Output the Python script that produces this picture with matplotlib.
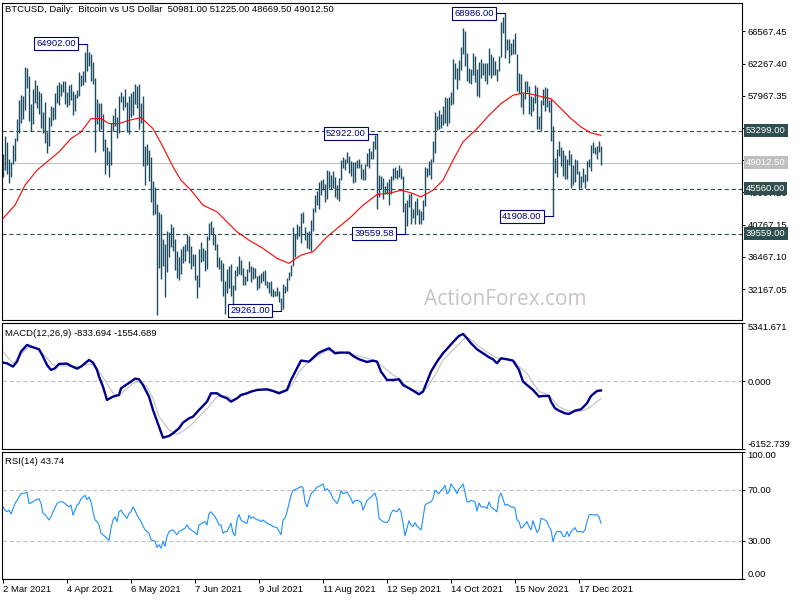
import matplotlib
matplotlib.use("Agg")
import matplotlib.pyplot as plt
from matplotlib.transforms import blended_transform_factory

plt.rcParams['font.family'] = ['Liberation Sans', 'DejaVu Sans']
plt.rcParams['lines.scale_dashes'] = False

# daily bars, 2 Mar 2021 .. 28 Dec 2021 (broker series, 300 bars)
HIGH = [
    # Mar
    50200, 52600, 51800, 49500, 49200, 51400, 52400, 54900, 57400, 58100,
    58000, 61800, 61700, 60600, 56900, 58900, 60100, 59400, 58600, 58400,
    55800, 57200, 53200, 55100, 56600, 56500, 58400, 59400, 59800,
    # Apr
    59500, 60000, 59900, 58500, 59400, 59500, 58600, 58200, 58800, 61200,
    60700, 61300, 63800, 64902, 63800, 63600, 62500, 60400, 57500, 57000,
    57000, 55500, 52200, 51200, 50600, 54400, 55400, 56400, 55200, 58000,
    # May
    58500, 57900, 58900, 57200, 57900, 58300, 58600, 59500, 59300, 59600,
    57000, 57900, 51300, 51500, 50700, 49800, 46600, 45800, 43500, 42500,
    42200, 38800, 38200, 39900, 39800, 40800, 40400, 38900, 37300, 36400, 37500,
    # Jun
    37900, 38200, 39500, 39300, 37900, 36800, 36800, 34100, 37500, 38400,
    37700, 37400, 39300, 41000, 41300, 40500, 39500, 38200, 36400, 36100,
    35700, 33300, 34900, 35200, 35500, 32700, 34700, 35300, 36600, 36100,
    # Jul
    35000, 33900, 34900, 35900, 35300, 35100, 35000, 33900, 34100, 34300,
    34600, 34700, 33300, 33100, 33200, 32200, 31900, 32400, 31900, 31000,
    32800, 32600, 33600, 34500, 35400, 40500, 39500, 40900, 40600, 42300, 42400,
    # Aug
    40400, 39800, 39900, 41400, 43000, 44700, 45300, 46500, 46700, 46800,
    46200, 48100, 48000, 47400, 48000, 47100, 46000, 47000, 49400, 49800,
    49500, 50500, 49900, 49300, 49200, 49200, 49400, 49600, 48900, 48200,
    # Sep
    48900, 50400, 51000, 50600, 51900, 52800, 52922, 47400, 47300, 47000,
    45900, 46400, 46800, 47200, 48400, 48500, 48100, 48800, 48300, 47300,
    43600, 44000, 44900, 45000, 42800, 43900, 44300, 42800, 42600, 44100,
    # Oct
    48500, 48400, 49300, 49500, 51900, 55800, 55300, 56100, 55500, 56600,
    57800, 57700, 57800, 58500, 62900, 62300, 61700, 62700, 64500, 67000,
    66600, 63700, 61700, 61500, 63700, 63300, 61500, 62500, 62900, 62400, 62400,
    # Nov
    62400, 64300, 63500, 63100, 62600, 61600, 63300, 67800, 68500, 68986,
    65600, 65500, 65000, 65600, 66300, 63600, 61000, 60900, 58400, 59900,
    60000, 59300, 58000, 57800, 59400, 59200, 55300, 57400, 58900, 59200,
    # Dec
    59000, 57400, 57600, 53900, 49700, 50900, 51900, 51200, 50800, 50100,
    49500, 50800, 50200, 48700, 49500, 49400, 48000, 47300, 48300, 47500,
    49300, 49600, 51400, 51800, 51200, 51300, 52000, 51225,
]
LOW = [
    # Mar
    47100, 48100, 47500, 46300, 47100, 48900, 49300, 51900, 53000, 54300,
    54900, 56100, 59000, 54600, 53300, 54200, 57000, 56300, 55500, 53700,
    53000, 51700, 50400, 51300, 53900, 54700, 54900, 57000, 56800,
    # Apr
    57900, 58500, 56900, 56500, 56800, 57400, 55400, 55900, 57700, 57900,
    59300, 59400, 59800, 61300, 62000, 60000, 59600, 50500, 54200, 53300,
    53600, 50600, 47500, 48800, 47100, 48800, 53300, 53900, 52400, 53000,
    # May
    57100, 56100, 56500, 53100, 52900, 55200, 55400, 56900, 56300, 53500,
    54300, 48600, 46000, 48800, 46600, 43800, 42100, 42200, 28700, 35000,
    33500, 35300, 31100, 34400, 36400, 37800, 37200, 34700, 33600, 33400, 34200,
    # Jun
    35700, 35900, 37200, 35600, 34800, 35300, 33400, 31000, 32400, 35800,
    35900, 34600, 34800, 38700, 39500, 38100, 37400, 35100, 34800, 33300,
    31300, 28900, 31700, 32300, 31300, 30200, 32000, 33900, 34200, 34000,
    # Jul
    32700, 32700, 33300, 34500, 33100, 33500, 33700, 32100, 32300, 33000,
    33300, 32700, 32300, 31600, 31200, 31100, 31200, 31200, 30500, 29261,
    29500, 31700, 31900, 33400, 33900, 35300, 36400, 38800, 39200, 38300, 41000,
    # Aug
    38700, 37600, 37500, 37300, 39900, 42500, 43400, 42800, 44700, 45400,
    43800, 44200, 45700, 45500, 45700, 44400, 44200, 43900, 46700, 48300,
    48100, 49000, 47600, 47200, 46300, 46500, 48400, 48300, 46900, 46700,
    # Sep
    46700, 48600, 48300, 49500, 49500, 50900, 42800, 44400, 45500, 44200,
    44800, 44800, 43400, 44800, 46700, 47000, 46800, 47100, 46900, 42500,
    39560, 40600, 43100, 40800, 41700, 40800, 42100, 40900, 40800, 41400,
    # Oct
    43300, 47100, 47400, 46900, 49100, 50400, 53400, 53600, 53700, 54100,
    54400, 54000, 54300, 56800, 56900, 60200, 58900, 60100, 61400, 63500,
    62000, 60000, 59700, 59500, 60700, 59800, 58000, 57800, 60300, 60700, 60000,
    # Nov
    59500, 60700, 60400, 60700, 60700, 60000, 61300, 63100, 66300, 63000,
    64100, 62300, 63400, 63600, 63500, 58600, 58400, 56500, 55600, 57500,
    58500, 55600, 55300, 55900, 57000, 53500, 53600, 53300, 56700, 55900,
    # Dec
    56500, 55800, 52000, 41908, 47700, 47100, 50000, 48600, 47300, 46900,
    46800, 48700, 45700, 46000, 46500, 47500, 45500, 45600, 46400, 45600,
    46600, 48500, 48000, 50400, 50200, 49500, 50500, 48669.5,
]

# red moving average (bar, value)
MA_BAR = [0, 6, 11, 17, 22, 28, 34, 39, 44, 49, 53, 58, 63, 69, 75, 80, 85, 89,
          94, 100, 107, 112, 117, 123, 130, 137, 143, 149, 155, 162, 168, 174,
          180, 187, 194, 199, 204, 209, 215, 220, 225, 230, 237, 243, 249, 255,
          260, 265, 270, 274, 279, 284, 289, 294, 299]
MA_VAL = [41600, 43370, 46040, 48040, 49150, 50480, 52260, 53150, 54930, 54930,
          54260, 54260, 54700, 55060, 53600, 51150, 48480, 46700, 45370, 43370,
          42480, 41150, 39810, 38700, 37600, 36270, 35600, 36710, 37150, 39150,
          40480, 41810, 43370, 44790, 45010, 45370, 45010, 44480, 45370, 46700,
          49370, 51810, 53600, 55370, 56930, 58040, 58340, 58170, 57810, 57600,
          56260, 54930, 53810, 53010, 52700]

MACD_BAR = [0, 2, 5, 7, 9, 12, 14, 18, 20, 22,
            24, 26, 28, 32, 34, 37, 39, 41, 43, 45,
            47, 48, 50, 52, 55, 58, 59, 62, 64, 66,
            68, 70, 73, 75, 78, 80, 83, 85, 88, 90,
            93, 95, 98, 102, 104, 107, 109, 112, 114, 117,
            119, 122, 124, 127, 132, 135, 138, 142, 144, 147,
            149, 153, 156, 158, 161, 163, 166, 169, 173, 175,
            178, 182, 185, 187, 189, 192, 195, 198, 200,
            203, 205, 208, 210, 212, 214, 217, 220, 223, 226,
            228, 230, 232, 234, 237, 240, 243, 245, 247, 249,
            252, 255, 258, 260, 263, 265, 268, 270, 273, 274,
            276, 278, 281, 283, 286, 289, 292, 294, 297, 299]
MACD_VAL = [1697, 1636, 1333, 1788, 2697, 3303, 3151, 2909, 2242, 1485,
            1030, 1182, 1576, 1606, 1394, 1151, 1333, 1636, 1939, 1697,
            1030, 424, -485, -1697, -1394, -1242, -636, -273, -30, 242,
            182, -333, -1394, -2606, -4121, -5121, -4969, -4727, -4272, -3757,
            -3363, -3212, -2606, -1848, -1091, -1091, -1333, -1545, -1848, -1545,
            -1242, -1091, -939, -788, -727, -879, -1091, -788, 121, 1182,
            1879, 1788, 2303, 2606, 2848, 3000, 2545, 2606, 2606, 2303,
            2000, 1757, 1879, 1788, 879, 121, 121, 182, -333,
            -636, -848, -1182, -939, -30, 879, 1788, 2545, 3151, 3757,
            4121, 4303, 3909, 3454, 2909, 2545, 2182, 2000, 1636, 2091,
            2000, 1879, 1030, -30, -485, -788, -1394, -1333, -1333, -1848,
            -2454, -2666, -2909, -2969, -2666, -2545, -2000, -1333, -879, -833.694]

SIGNAL_BAR = [0, 2, 5, 8, 12, 15, 18, 22, 25, 29,
              34, 38, 43, 46, 48, 52, 55, 58, 61, 65,
              68, 72, 75, 78, 83, 87, 91, 95, 98, 103,
              107, 112, 115, 118, 123, 128, 133, 138, 142, 145,
              148, 152, 157, 162, 165, 170, 175, 180, 185, 190,
              195, 198, 202, 205, 210, 213, 217, 220, 225, 230,
              232, 234, 238, 243, 248, 253, 256, 258, 262, 265,
              268, 272, 275, 278, 282, 285, 288, 291, 294, 299]
SIGNAL_VAL = [2700, 2242, 1636, 2242, 3000, 3151, 2939, 2091, 1485, 1394,
              1394, 1333, 1545, 1485, 879, -182, -1091, -1333, -788, -182,
              -30, -485, -1545, -3212, -4424, -4818, -4424, -3818, -3212, -2303,
              -1394, -1333, -1697, -1454, -939, -788, -848, -939, -848, -182,
              879, 1636, 2242, 2788, 2788, 2606, 2454, 2182, 1939, 1333,
              576, 273, -485, -788, -939, -333, 879, 1939, 2848, 3757,
              4000, 3757, 3151, 2545, 2000, 1939, 1788, 1333, 727, -182,
              -939, -1151, -1697, -2303, -2666, -2757, -2757, -2606, -2303, -1554.689]

RSI_BAR = [0, 1, 2, 3, 4, 6, 8, 9, 11, 12,
           13, 14, 16, 18, 19, 20, 21, 23, 24, 25,
           27, 28, 30, 31, 33, 34, 35, 36, 37, 38,
           39, 41, 42, 43, 44, 45, 46, 47, 48, 49,
           51, 53, 54, 55, 56, 57, 58, 59, 60, 62,
           63, 64, 65, 66, 67, 68, 69, 71, 72, 73,
           74, 76, 77, 78, 79, 80, 81, 82, 83, 84,
           85, 87, 88, 89, 91, 92, 93, 94, 96, 97,
           98, 99, 101, 102, 103, 104, 106, 107, 108, 109,
           110, 111, 112, 114, 115, 116, 117, 118, 119, 120,
           122, 123, 124, 125, 127, 128, 129, 130, 132, 134,
           135, 137, 139, 140, 141, 142, 144, 145, 147, 149,
           150, 151, 152, 153, 154, 156, 157, 159, 160, 161,
           162, 164, 165, 167, 168, 169, 170, 172, 174, 175,
           176, 177, 179, 180, 181, 182, 184, 186, 187, 188,
           189, 190, 192, 193, 194, 195, 197, 198, 199, 200,
           201, 202, 203, 204, 205, 206, 207, 209, 210, 211,
           212, 214, 215, 216, 217, 218, 219, 220, 221, 222,
           223, 224, 226, 227, 228, 229, 230, 231, 232, 233,
           234, 236, 237, 238, 239, 241, 242, 243, 244, 246,
           247, 248, 249, 251, 252, 254, 255, 256, 257, 258,
           259, 260, 262, 263, 264, 265, 267, 268, 269, 271,
           272, 273, 274, 275, 276, 277, 279, 280, 281, 282,
           283, 284, 286, 287, 289, 290, 291, 292, 293, 294,
           296, 297, 298, 299]
RSI_VAL = [56.6, 54.0, 52.7, 54.0, 50.9, 59.2, 64.3, 66.9, 67.4, 68.2,
           59.2, 59.7, 61.7, 63.0, 59.2, 51.4, 50.6, 46.3, 48.8, 52.7,
           59.2, 60.5, 60.5, 59.2, 56.6, 57.9, 50.1, 54.0, 57.9, 59.2,
           63.0, 65.6, 62.3, 64.3, 60.5, 52.7, 46.3, 45.0, 42.4, 35.9,
           33.4, 30.3, 39.8, 46.3, 48.8, 45.0, 52.7, 54.0, 51.4, 47.6,
           51.4, 52.7, 56.6, 54.0, 50.1, 47.6, 45.0, 38.5, 37.2, 35.9,
           30.8, 29.5, 24.8, 26.9, 24.1, 29.5, 25.6, 33.4, 37.2, 38.0,
           38.5, 34.7, 37.2, 38.0, 39.8, 42.4, 39.8, 38.5, 36.5, 34.7,
           42.4, 43.2, 45.0, 42.4, 51.4, 52.7, 48.8, 46.3, 42.4, 42.4,
           35.9, 37.2, 37.2, 43.7, 35.9, 33.9, 46.3, 50.6, 46.3, 45.0,
           43.7, 50.1, 47.6, 48.8, 46.3, 46.3, 45.0, 46.3, 43.7, 42.4,
           41.1, 40.3, 34.7, 46.3, 47.6, 52.7, 65.6, 69.5, 70.8, 72.6,
           71.5, 60.5, 56.6, 61.7, 66.9, 70.0, 72.1, 73.4, 74.6, 69.5,
           70.8, 66.9, 63.0, 59.2, 63.0, 69.5, 66.9, 68.2, 63.0, 59.2,
           61.7, 61.7, 60.5, 54.0, 57.9, 61.7, 64.3, 67.4, 61.7, 47.6,
           46.3, 45.0, 44.2, 46.3, 51.4, 54.0, 52.7, 55.3, 52.7, 43.7,
           33.9, 39.8, 45.7, 42.4, 41.1, 44.2, 41.6, 38.5, 47.6, 57.9,
           59.2, 60.5, 63.0, 69.5, 68.2, 66.9, 69.5, 70.8, 73.4, 66.9,
           68.2, 74.6, 70.0, 66.9, 70.8, 72.1, 74.6, 68.2, 60.5, 60.5,
           61.7, 60.5, 53.2, 59.7, 56.6, 56.6, 55.3, 60.5, 56.6, 54.0,
           52.7, 64.3, 67.4, 57.9, 58.6, 56.6, 56.6, 55.3, 46.3, 45.0,
           39.8, 41.1, 45.0, 41.1, 38.5, 45.7, 36.5, 38.5, 47.6, 46.3,
           45.0, 41.1, 38.5, 29.5, 34.7, 37.2, 37.2, 33.4, 33.4, 37.2,
           33.4, 37.2, 40.3, 37.2, 37.2, 36.5, 38.5, 45.0, 50.1, 50.6,
           50.1, 50.6, 48.8, 43.74]

DATE_BARS = [0, 32, 64, 96, 128, 160, 192, 224, 256, 288]
DATE_LABELS = ['2 Mar 2021', '4 Apr 2021', '6 May 2021', '7 Jun 2021', '9 Jul 2021',
               '11 Aug 2021', '12 Sep 2021', '14 Oct 2021', '15 Nov 2021', '17 Dec 2021']

LEVELS = [53299.00, 45560.00, 39559.00]
LAST_PRICE = 49012.50
MARK_BARS = [42, 139, 187, 201, 251, 275]
MARK_PRICES = [64902.00, 29261.00, 52922.00, 39559.58, 68986.00, 41908.00]

PRICE_TICKS = [32167.05 + 4300.05 * k for k in range(9)]
MACD_LIM = (-6152.739, 5341.671)

assert len(HIGH) == len(LOW) == 300
assert len(MACD_BAR) == len(MACD_VAL) and len(SIGNAL_BAR) == len(SIGNAL_VAL)
assert len(RSI_BAR) == len(RSI_VAL) and len(MA_BAR) == len(MA_VAL)

FS = 6.8
bar_color = '#1e4b5f'
navy = '#000080'
slate = '#2f4f4f'
silver = '#c0c0c0'

fig = plt.figure(figsize=(8, 6), dpi=100)


def px_axes(x0, y0, x1, y1):
    return fig.add_axes([x0 / 800, 1 - y1 / 600, (x1 - x0) / 800, (y1 - y0) / 600])


ax = px_axes(2, 2.5, 742, 320)
axm = px_axes(2, 322.5, 742, 449)
axr = px_axes(2, 451.5, 742, 579)

for a in (ax, axm, axr):
    a.set_xlim(-0.5, 369.5)
    for s in a.spines.values():
        s.set_linewidth(0.8)
        s.set_color('black')
    a.yaxis.tick_right()
    a.tick_params(axis='y', direction='out', length=2.5, width=0.7, pad=1.5,
                  labelsize=FS, colors='black')
    a.tick_params(axis='x', bottom=False, labelbottom=False)

# main price panel
ax.text(0.68, 0.065, 'ActionForex.com', transform=ax.transAxes, ha='center', va='center',
        fontsize=15, color='#cbc3bf', family=['Open Sans', 'DejaVu Sans'], zorder=0)
ax.vlines(range(len(HIGH)), LOW, HIGH, color=bar_color, lw=1.0, zorder=2)
ax.plot(MA_BAR, MA_VAL, color='red', lw=0.8, zorder=3)
for lv in LEVELS:
    ax.axhline(lv, color=slate, lw=0.8, ls=(0, (3, 2)), zorder=1)
ax.axhline(LAST_PRICE, color=silver, lw=0.8, zorder=1)
ax.set_ylim(28040, 70430)
ax.set_yticks(PRICE_TICKS)
ax.set_yticklabels([f'{v:.2f}' for v in PRICE_TICKS])

for b, p in zip(MARK_BARS, MARK_PRICES):
    ax.plot([b - 5, b], [p, p], color=navy, lw=0.8, zorder=4)
    ax.text(b - 5.6, p, f'{p:.2f}', ha='right', va='center', fontsize=FS, color=navy, zorder=5,
            bbox=dict(boxstyle='square,pad=0.22', fc='white', ec=navy, lw=0.8))

trans = blended_transform_factory(ax.transAxes, ax.transData)
for lv, fc in [(LEVELS[0], slate), (LAST_PRICE, silver), (LEVELS[1], slate), (LEVELS[2], slate)]:
    ax.text(1.0 + 4 / 740, lv, f'{lv:.2f}', transform=trans, ha='left', va='center',
            fontsize=FS, color='white', clip_on=False, zorder=6,
            bbox=dict(boxstyle='square,pad=0.22', fc=fc, ec='none'))

fig.text(5 / 800, 1 - 9.5 / 600,
         'BTCUSD, Daily:  Bitcoin vs US Dollar  50981.00 51225.00 48669.50 49012.50',
         ha='left', va='center', fontsize=FS)

# MACD panel
axm.axhline(0, color=silver, lw=0.8, ls=(0, (3, 2)))
axm.plot(SIGNAL_BAR, SIGNAL_VAL, color=silver, lw=0.8)
axm.plot(MACD_BAR, MACD_VAL, color='#00008b', lw=1.7)
axm.set_ylim(*MACD_LIM)
axm.set_yticks([MACD_LIM[0], 0, MACD_LIM[1]])
axm.set_yticklabels(['-6152.739', '0.000', '5341.671'])
ml = axm.get_yticklabels()
ml[0].set_va('bottom')
ml[2].set_va('top')
fig.text(5 / 800, 1 - 333 / 600, 'MACD(12,26,9) -833.694 -1554.689',
         ha='left', va='center', fontsize=FS)

# RSI panel
for lv in (30, 70):
    axr.axhline(lv, color=silver, lw=0.8, ls=(0, (3, 2)))
axr.plot(RSI_BAR, RSI_VAL, color='#1e90ff', lw=0.8)
axr.set_ylim(0, 100)
axr.set_yticks([0, 30, 70, 100])
axr.set_yticklabels(['0.00', '30.00', '70.00', '100.00'])
rl = axr.get_yticklabels()
rl[0].set_va('bottom')
rl[3].set_va('top')
axr.set_xticks(DATE_BARS)
axr.set_xticklabels(DATE_LABELS, ha='left')
axr.tick_params(axis='x', bottom=True, labelbottom=True, direction='out', length=3,
                width=0.7, pad=1.5, labelsize=FS)
fig.text(5 / 800, 1 - 461 / 600, 'RSI(14) 43.74', ha='left', va='center', fontsize=FS)

fig.savefig('out.png', dpi=100)
